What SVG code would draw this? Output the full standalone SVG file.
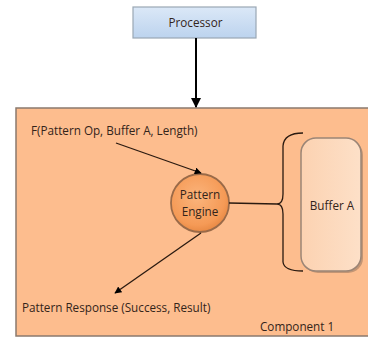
<svg xmlns="http://www.w3.org/2000/svg" width="368" height="339" viewBox="0 0 368 339">
  <defs>
    <linearGradient id="procFill" x1="0" y1="0" x2="0" y2="1">
      <stop offset="0" stop-color="#dbe8f7"/>
      <stop offset="1" stop-color="#bcd3ee"/>
    </linearGradient>
    <radialGradient id="engineFill" cx="0.45" cy="0.4" r="0.6">
      <stop offset="0" stop-color="#fbb47c"/>
      <stop offset="0.8" stop-color="#f59a56"/>
      <stop offset="1" stop-color="#e98a45"/>
    </radialGradient>
    <linearGradient id="bufFill" x1="0" y1="0" x2="1" y2="0">
      <stop offset="0" stop-color="#fcd2b1"/>
      <stop offset="1" stop-color="#fde0c8"/>
    </linearGradient>
    <marker id="head" viewBox="0 0 10 10" refX="9" refY="5" markerWidth="7" markerHeight="7" orient="auto" markerUnits="userSpaceOnUse">
      <path d="M0,0 L10,5 L0,10 z" fill="#000"/>
    </marker>
    <marker id="headBig" viewBox="0 0 10 10" refX="9" refY="5" markerWidth="10" markerHeight="10" orient="auto" markerUnits="userSpaceOnUse">
      <path d="M0,0 L10,5 L0,10 z" fill="#000"/>
    </marker>
  </defs>
  <style>
    text { font-family: "Open Sans", "Liberation Sans", sans-serif; fill: #33241a; }
    .lbl { font-size: 11.7px; }
    .conn { fill: none; stroke: #2a1a10; stroke-width: 1.3; }
  </style>

  <rect width="368" height="339" fill="#ffffff"/>

  <g id="component1">
    <rect x="16" y="108" width="360" height="228" fill="#fdbd8e" stroke="#8a7a6e" stroke-width="1.5"/>
    <text class="lbl" x="260" y="331">Component 1</text>
  </g>

  <g id="processor">
    <rect x="133" y="7" width="123" height="31" fill="url(#procFill)" stroke="#9aa7b4" stroke-width="1.2"/>
    <text class="lbl" x="195.5" y="26.5" text-anchor="middle">Processor</text>
  </g>

  <g id="call-label">
    <text class="lbl" x="31" y="135">F(Pattern Op, Buffer A, Length)</text>
  </g>

  <g id="response-label">
    <text class="lbl" x="22" y="312">Pattern Response (Success, Result)</text>
  </g>

  <g id="buffer-a">
    <rect x="303" y="140" width="60" height="133" rx="15" ry="15" fill="#8a6d5a" opacity="0.5"/>
    <rect x="301" y="138" width="60" height="133" rx="15" ry="15" fill="url(#bufFill)" stroke="#9b8576" stroke-width="1.5"/>
    <text class="lbl" x="332" y="210" text-anchor="middle">Buffer A</text>
  </g>

  <g id="pattern-engine">
    <circle cx="200" cy="203" r="29" fill="url(#engineFill)" stroke="#9a6a48" stroke-width="1.8"/>
    <text class="lbl" x="200" y="199" text-anchor="middle">Pattern</text>
    <text class="lbl" x="200" y="216" text-anchor="middle">Engine</text>
  </g>

  <g id="connectors">
    <line x1="196" y1="38" x2="196" y2="107" stroke="#000" stroke-width="2" marker-end="url(#headBig)"/>
    <line class="conn" x1="116" y1="143" x2="201" y2="173" marker-end="url(#head)"/>
    <line class="conn" x1="201" y1="233" x2="115" y2="293" marker-end="url(#head)"/>
    <line class="conn" x1="229" y1="203" x2="277" y2="204"/>
    <!-- curly brace spanning Buffer A -->
    <path class="conn" stroke="#6e4a32" d="M303,133 Q284,133 283,146 L283,194 Q283,204 277,204 Q283,204 283,214 L283,262 Q284,271 303,271"/>
  </g>
</svg>
